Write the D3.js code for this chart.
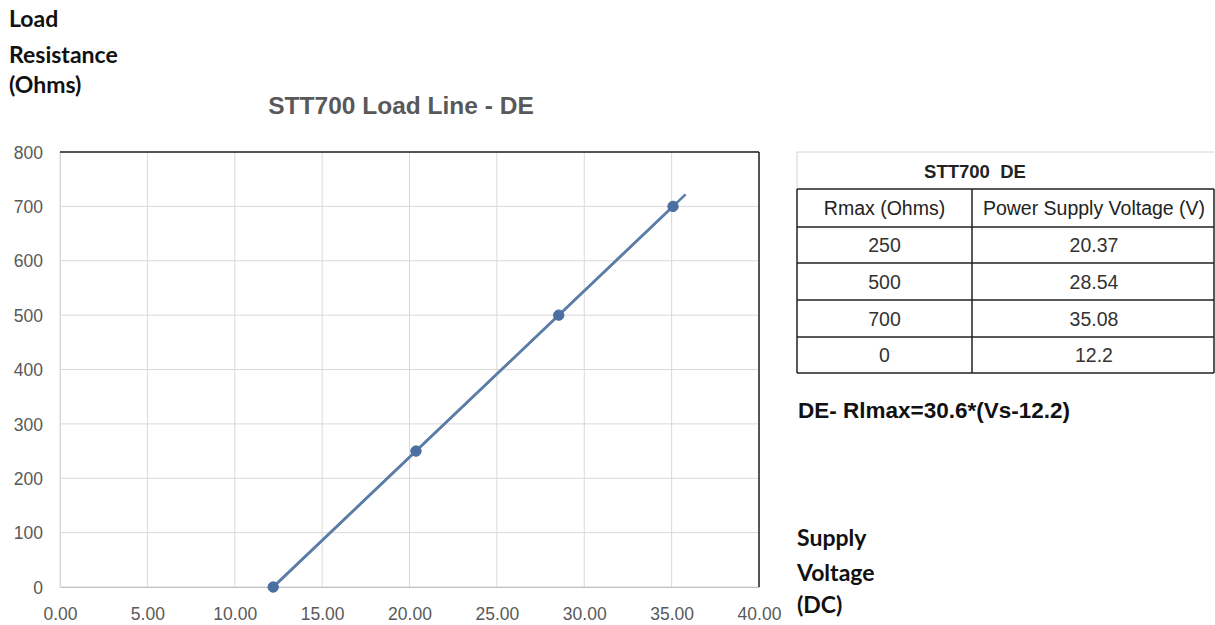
<!DOCTYPE html>
<html>
<head>
<meta charset="utf-8">
<script src="https://cdn.jsdelivr.net/npm/d3@7"></script>
<style>
  html, body { margin: 0; padding: 0; background: #fff; }
  svg { display: block; }
</style>
</head>
<body>
<svg id="chart" width="1215" height="625"></svg>
<script>
// ---------- data ----------
const rmaxOhms = [250, 500, 700, 0];
const supplyVolts = [20.37, 28.54, 35.08, 12.2];
const supplyVoltLabels = ["20.37", "28.54", "35.08", "12.2"];
const trendX = [12.2, 35.8];
const trendY = [0, 722];
const xTicks = [0, 5, 10, 15, 20, 25, 30, 35, 40];
const yTicks = [0, 100, 200, 300, 400, 500, 600, 700, 800];
const chartTitle = "STT700 Load Line - DE";
const tableTitle = "STT700  DE";
const tableHeaders = ["Rmax (Ohms)", "Power Supply Voltage (V)"];
const yAxisLabel = ["Load", "Resistance", "(Ohms)"];
const xAxisLabel = ["Supply", "Voltage", "(DC)"];
const formulaText = "DE- Rlmax=30.6*(Vs-12.2)";

// ---------- layout ----------
const svg = d3.select("#chart");
const plot = { left: 60, right: 759, top: 152, bottom: 587 };
const x = d3.scaleLinear().domain([0, 40]).range([plot.left, plot.right]);
const y = d3.scaleLinear().domain([0, 800]).range([plot.bottom, plot.top]);

const tickFont = "'Liberation Sans', Arial, sans-serif";
const labelFont = "Lato, 'Open Sans', sans-serif";

// gridlines
svg.append("g").selectAll("line").data(xTicks).join("line")
  .attr("x1", d => x(d)).attr("x2", d => x(d))
  .attr("y1", plot.top).attr("y2", plot.bottom)
  .attr("stroke", "#d9d9d9").attr("stroke-width", 1);
svg.append("g").selectAll("line").data(yTicks).join("line")
  .attr("x1", plot.left).attr("x2", plot.right)
  .attr("y1", d => y(d)).attr("y2", d => y(d))
  .attr("stroke", "#d9d9d9").attr("stroke-width", 1);

// axes (labels only)
const xAxis = d3.axisBottom(x).tickValues(xTicks).tickFormat(d3.format(".2f")).tickSize(0).tickPadding(0);
const gx = svg.append("g").attr("transform", `translate(0,${plot.bottom})`).call(xAxis);
gx.select(".domain").attr("stroke", "#bfbfbf");
gx.selectAll("text").attr("dy", null).attr("y", 33)
  .attr("font-family", tickFont).attr("font-size", 17.5).attr("fill", "#595959");

const yAxis = d3.axisLeft(y).tickValues(yTicks).tickFormat(d3.format("d")).tickSize(0).tickPadding(0);
const gy = svg.append("g").attr("transform", `translate(${plot.left},0)`).call(yAxis);
gy.select(".domain").attr("stroke", "#d9d9d9");
gy.selectAll("text").attr("x", -17).attr("dy", "0.35em")
  .attr("font-family", tickFont).attr("font-size", 17.5).attr("fill", "#595959");

// dark top / right frame
svg.append("line").attr("x1", plot.left).attr("x2", plot.right)
  .attr("y1", plot.top).attr("y2", plot.top).attr("stroke", "#222").attr("stroke-width", 1.5);
svg.append("line").attr("x1", plot.right).attr("x2", plot.right)
  .attr("y1", plot.top).attr("y2", plot.bottom).attr("stroke", "#222").attr("stroke-width", 1.5);

// trend line
const trendPts = trendX.map((v, i) => [v, trendY[i]]);
svg.append("path").datum(trendPts)
  .attr("d", d3.line().x(d => x(d[0])).y(d => y(d[1])))
  .attr("fill", "none").attr("stroke", "#5b7da8").attr("stroke-width", 2.6);

// data line + markers
const pts = supplyVolts.map((v, i) => ({ v, r: rmaxOhms[i] })).sort((a, b) => a.v - b.v);
svg.append("path").datum(pts)
  .attr("d", d3.line().x(d => x(d.v)).y(d => y(d.r)))
  .attr("fill", "none").attr("stroke", "#5b7da8").attr("stroke-width", 2.6);
svg.append("g").selectAll("circle").data(pts).join("circle")
  .attr("cx", d => x(d.v)).attr("cy", d => y(d.r)).attr("r", 5.2)
  .attr("fill", "#4a6fa0").attr("stroke", "#4a6fa0");

// chart title
svg.append("text").attr("x", 401).attr("y", 114).attr("text-anchor", "middle")
  .attr("font-family", tickFont).attr("font-weight", "bold").attr("font-size", 24.5)
  .attr("fill", "#595959").text(chartTitle);

// axis labels
svg.append("g").selectAll("text").data(yAxisLabel).join("text")
  .attr("x", 9).attr("y", (d, i) => [27, 63, 93][i])
  .attr("font-family", labelFont).attr("font-weight", "bold").attr("font-size", 23)
  .attr("fill", "#111").text(d => d);
svg.append("g").selectAll("text").data(xAxisLabel).join("text")
  .attr("x", 797).attr("y", (d, i) => [546, 581, 613][i])
  .attr("font-family", labelFont).attr("font-weight", "bold").attr("font-size", 23)
  .attr("fill", "#111").text(d => d);

// formula
svg.append("text").attr("x", 798).attr("y", 418)
  .attr("font-family", tickFont).attr("font-weight", "bold").attr("font-size", 22.5)
  .attr("fill", "#111").text(formulaText);

// ---------- table ----------
const tbl = { left: 797, mid: 972, right: 1214, top: 152, head: 189 };
const rowEdges = [189, 227, 263, 300, 337, 373];
const tg = svg.append("g");
// title row (light)
tg.append("line").attr("x1", tbl.left).attr("x2", tbl.right).attr("y1", tbl.top).attr("y2", tbl.top)
  .attr("stroke", "#d4d4d4").attr("stroke-width", 1);
tg.append("line").attr("x1", tbl.left).attr("x2", tbl.left).attr("y1", tbl.top).attr("y2", tbl.head)
  .attr("stroke", "#d4d4d4").attr("stroke-width", 1);
tg.append("text").attr("x", 975).attr("y", 178).attr("text-anchor", "middle")
  .attr("xml:space", "preserve").style("white-space", "pre")
  .attr("font-family", tickFont).attr("font-weight", "bold").attr("font-size", 18.5)
  .attr("fill", "#222").text(tableTitle);
// grid
tg.selectAll("line.h").data(rowEdges).join("line").attr("class", "h")
  .attr("x1", tbl.left).attr("x2", tbl.right).attr("y1", d => d).attr("y2", d => d)
  .attr("stroke", "#222").attr("stroke-width", 1.5);
[tbl.left, tbl.mid, tbl.right].forEach(cx => {
  tg.append("line").attr("x1", cx).attr("x2", cx).attr("y1", rowEdges[0]).attr("y2", rowEdges[rowEdges.length - 1])
    .attr("stroke", "#222").attr("stroke-width", 1.5);
});
const colCenters = [(tbl.left + tbl.mid) / 2, (tbl.mid + tbl.right) / 2 + 1];
const rowMid = i => (rowEdges[i] + rowEdges[i + 1]) / 2;
tableHeaders.forEach((h, j) => {
  tg.append("text").attr("x", colCenters[j]).attr("y", rowMid(0)).attr("dy", "0.36em")
    .attr("text-anchor", "middle").attr("font-family", tickFont).attr("font-size", 19.5)
    .attr("fill", "#222").text(h);
});
rmaxOhms.forEach((r, i) => {
  tg.append("text").attr("x", colCenters[0]).attr("y", rowMid(i + 1)).attr("dy", "0.36em")
    .attr("text-anchor", "middle").attr("font-family", tickFont).attr("font-size", 19.5)
    .attr("fill", "#333").text(r);
  tg.append("text").attr("x", colCenters[1]).attr("y", rowMid(i + 1)).attr("dy", "0.36em")
    .attr("text-anchor", "middle").attr("font-family", tickFont).attr("font-size", 19.5)
    .attr("fill", "#333").text(supplyVoltLabels[i]);
});
</script>
</body>
</html>
